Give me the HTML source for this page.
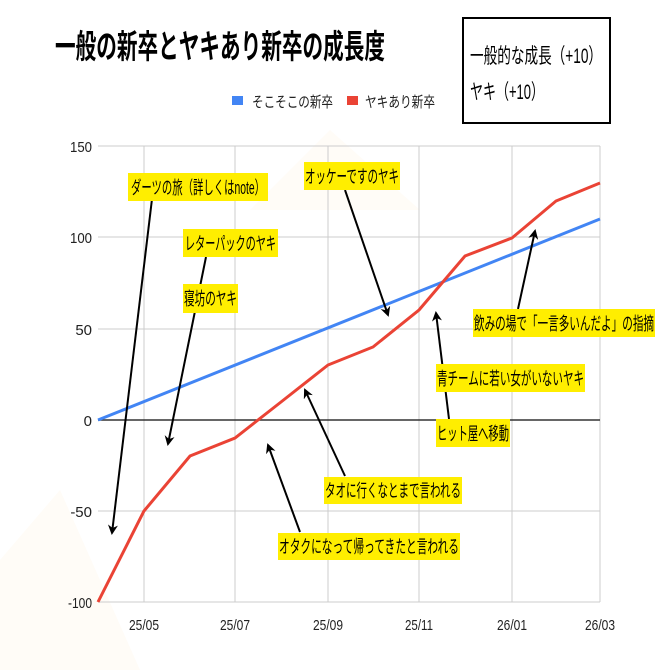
<!DOCTYPE html>
<html><head><meta charset="utf-8"><style>
html,body{margin:0;padding:0;background:#fff;}
svg{display:block;font-family:"Liberation Sans","Noto Sans CJK JP",sans-serif;}
</style></head><body>
<svg width="670" height="670" viewBox="0 0 670 670" xmlns="http://www.w3.org/2000/svg">
<defs><marker id="ah" markerWidth="10" markerHeight="10" refX="8" refY="5" orient="auto" markerUnits="userSpaceOnUse"><path d="M0,0 L10,5 L0,10 L3,5 z" fill="#000"/></marker></defs>
<rect width="670" height="670" fill="#fff"/>
<polygon points="330,130 420,210 250,210" fill="#fffcf7"/>
<polygon points="0,560 60,490 140,670 0,670" fill="#fffcf7"/>
<text x="55" y="58" font-size="33" font-weight="bold" textLength="330" lengthAdjust="spacingAndGlyphs">一般の新卒とヤキあり新卒の成長度</text>
<rect x="463" y="18" width="147" height="105" fill="#fff" stroke="#000" stroke-width="2"/>
<text x="470" y="63" font-size="21" textLength="132" lengthAdjust="spacingAndGlyphs">一般的な成長（+10）</text>
<text x="470" y="99" font-size="21" textLength="74" lengthAdjust="spacingAndGlyphs">ヤキ（+10）</text>
<rect x="232" y="96" width="11" height="9" fill="#4285f4"/>
<text x="252" y="107" font-size="15" fill="#222" textLength="81" lengthAdjust="spacingAndGlyphs">そこそこの新卒</text>
<rect x="347" y="96" width="11" height="9" fill="#ea4335"/>
<text x="365" y="107" font-size="15" fill="#222" textLength="70" lengthAdjust="spacingAndGlyphs">ヤキあり新卒</text>
<g stroke="#ccc" stroke-width="1">
<line x1="98" y1="146" x2="600" y2="146"/><line x1="98" y1="237" x2="600" y2="237"/><line x1="98" y1="329" x2="600" y2="329"/><line x1="98" y1="511" x2="600" y2="511"/><line x1="98" y1="602" x2="600" y2="602"/>
<line x1="144" y1="146" x2="144" y2="602"/><line x1="235" y1="146" x2="235" y2="602"/><line x1="328" y1="146" x2="328" y2="602"/><line x1="419" y1="146" x2="419" y2="602"/><line x1="512" y1="146" x2="512" y2="602"/><line x1="600" y1="146" x2="600" y2="602"/>
</g>
<line x1="98" y1="420" x2="600" y2="420" stroke="#333" stroke-width="1.5"/>
<g font-size="15" fill="#222" text-anchor="end">
<text x="92" y="152" textLength="22" lengthAdjust="spacingAndGlyphs">150</text><text x="92" y="243" textLength="22" lengthAdjust="spacingAndGlyphs">100</text><text x="92" y="335">50</text><text x="92" y="426">0</text><text x="92" y="517">-50</text><text x="92" y="608" textLength="24" lengthAdjust="spacingAndGlyphs">-100</text>
</g>
<g font-size="15" fill="#222" text-anchor="middle">
<text x="144" y="630" textLength="30" lengthAdjust="spacingAndGlyphs">25/05</text><text x="235" y="630" textLength="30" lengthAdjust="spacingAndGlyphs">25/07</text><text x="328" y="630" textLength="30" lengthAdjust="spacingAndGlyphs">25/09</text><text x="419" y="630" textLength="28" lengthAdjust="spacingAndGlyphs">25/11</text><text x="512" y="630" textLength="30" lengthAdjust="spacingAndGlyphs">26/01</text><text x="600" y="630" textLength="30" lengthAdjust="spacingAndGlyphs">26/03</text>
</g>
<polyline points="98,420 600,219" fill="none" stroke="#4285f4" stroke-width="3"/>
<polyline points="98,602 144,511 190,456 235,438 281,402 328,365 373,347 419,310 465,256 512,238 556,201 600,183" fill="none" stroke="#ea4335" stroke-width="3"/>
<g stroke="#000" stroke-width="2" marker-end="url(#ah)">
<line x1="152" y1="199" x2="112" y2="533"/>
<line x1="206" y1="257" x2="168" y2="444"/>
<line x1="345" y1="190" x2="388" y2="315"/>
<line x1="518" y1="309" x2="535" y2="231"/>
<line x1="449" y1="419" x2="436" y2="313"/>
<line x1="345" y1="476" x2="305" y2="390"/>
<line x1="300" y1="532" x2="268" y2="445"/>
</g>
<g font-size="18" fill="#000">
<rect x="128" y="173" width="140" height="28" fill="#ffee00"/><text x="131" y="194" textLength="134" lengthAdjust="spacingAndGlyphs">ダーツの旅（詳しくはnote）</text>
<rect x="183" y="229" width="95" height="28" fill="#ffee00"/><text x="185" y="250" textLength="91" lengthAdjust="spacingAndGlyphs">レターパックのヤキ</text>
<rect x="183" y="284" width="55" height="29" fill="#ffee00"/><text x="184" y="305" textLength="53" lengthAdjust="spacingAndGlyphs">寝坊のヤキ</text>
<rect x="304" y="162" width="96" height="28" fill="#ffee00"/><text x="305" y="183" textLength="94" lengthAdjust="spacingAndGlyphs">オッケーですのヤキ</text>
<rect x="473" y="309" width="182" height="28" fill="#ffee00"/><text x="474" y="330" textLength="180" lengthAdjust="spacingAndGlyphs">飲みの場で「一言多いんだよ」の指摘</text>
<rect x="436" y="364" width="149" height="28" fill="#ffee00"/><text x="437" y="385" textLength="147" lengthAdjust="spacingAndGlyphs">青チームに若い女がいないヤキ</text>
<rect x="436" y="419" width="74" height="28" fill="#ffee00"/><text x="437" y="440" textLength="72" lengthAdjust="spacingAndGlyphs">ヒット屋へ移動</text>
<rect x="324" y="477" width="138" height="27" fill="#ffee00"/><text x="325" y="497" textLength="136" lengthAdjust="spacingAndGlyphs">タオに行くなとまで言われる</text>
<rect x="278" y="533" width="182" height="27" fill="#ffee00"/><text x="279" y="553" textLength="180" lengthAdjust="spacingAndGlyphs">オタクになって帰ってきたと言われる</text>
</g>
</svg>
</body></html>
